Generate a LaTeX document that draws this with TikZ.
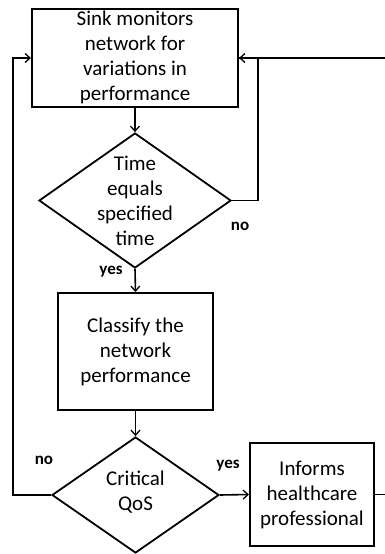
\documentclass[tikz,border=0pt]{standalone}
\usepackage{fontspec}
\setmainfont{Carlito}
\usetikzlibrary{shapes.geometric,arrows.meta}
\begin{document}
\begin{tikzpicture}[x=1pt,y=-1pt,
  boxst/.style={draw,line width=2pt,inner sep=0pt,align=center,font=\fontsize{21}{25}\selectfont},
  diast/.style={draw,diamond,line width=1.8pt,inner sep=0pt},
  dtext/.style={inner sep=0pt,align=center,font=\fontsize{21}{25}\selectfont},
  lab/.style={inner sep=0pt,font=\fontsize{17}{20}\selectfont\bfseries},
  conn/.style={line width=1.6pt},
  arr/.style={conn,-{Straight Barb[length=5pt,width=9pt,line width=1.3pt]}}]
\useasboundingbox (0,0) rectangle (385,554);
\node[boxst,minimum width=206pt,minimum height=98pt] (b1) at (135,58) {};
\node[dtext] (b1t) at (135,57) {Sink monitors\\network for\\variations in\\performance};
\node[diast,minimum width=192pt,minimum height=135pt] (d1) at (135,200.5) {};
\node[dtext] (d1t) at (135,201) {Time\\equals\\specified\\time};
\node[boxst,minimum width=155pt,minimum height=117pt] (b2) at (135.5,351.5) {Classify the\\network\\performance};
\node[diast,minimum width=167pt,minimum height=116pt] (d2) at (135.5,495) {};
\node[dtext] (d2t) at (135.5,492.5) {Critical\\QoS};
\node[boxst,minimum width=124pt,minimum height=103pt] (b3) at (312,494.5) {Informs\\healthcare\\professional};
\coordinate (rbot) at (386,494.5);
\coordinate (rtop) at (386,58);
\node[lab] (n1) at (240,226) {no};
\node[lab] (y1) at (111,272) {yes};
\node[lab] (n2) at (44,460) {no};
\node[lab] (y2) at (228,466) {yes};
\draw[arr] (b1.south) -- (d1.north);
\draw[conn] (rtop) -- (b1.east);
\draw[arr] (d1.east) -- ++(26,0) |- (b1.east);
\draw[arr] (d1.south) -- (b2.north);
\draw[arr] (b2.south) -- (d2.north);
\draw[arr] (d2.west) -- (13,495) |- (b1.west);
\draw[arr] (d2.east) -- (b3.west);
\draw[conn] (b3.east) -- (rbot);
\end{tikzpicture}
\end{document}
